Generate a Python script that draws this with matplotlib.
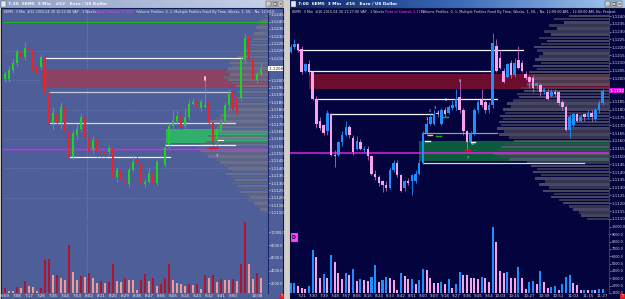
import numpy as np
import matplotlib
matplotlib.use("Agg")
import matplotlib.pyplot as plt
import matplotlib.transforms as mtransforms
from matplotlib.patches import Rectangle

W, H = 625, 299

# ---------------- left window: 6EM5 3 Min #12 ----------------
left_open = [1.1201, 1.1201, 1.1207, 1.1212, 1.1219, 1.1216, 1.1222, 1.1221, 1.1210, 1.1209,
             1.1216, 1.1191, 1.1171, 1.1178, 1.1171, 1.1182, 1.1165, 1.1148, 1.1163, 1.1167,
             1.1175, 1.1161, 1.1153, 1.1159, 1.1151, 1.1151, 1.1151, 1.1154, 1.1134, 1.1139,
             1.1131, 1.1129, 1.1139, 1.1146, 1.1143, 1.1129, 1.1131, 1.1137, 1.1130, 1.1145,
             1.1142, 1.1156, 1.1169, 1.1172, 1.1176, 1.1169, 1.1175, 1.1184, 1.1185, 1.1181,
             1.1182, 1.1185, 1.1171, 1.1160, 1.1167, 1.1172, 1.1183, 1.1192, 1.1188, 1.1188,
             1.1214, 1.1230, 1.1214, 1.1200, 1.1204]
left_high = [1.1206, 1.1210, 1.1215, 1.1221, 1.1221, 1.1226, 1.1225, 1.1222, 1.1212, 1.1218,
             1.1218, 1.1193, 1.1182, 1.1181, 1.1185, 1.1184, 1.1166, 1.1166, 1.1170, 1.1178,
             1.1178, 1.1163, 1.1162, 1.1162, 1.1153, 1.1159, 1.1156, 1.1155, 1.1141, 1.1140,
             1.1133, 1.1141, 1.1149, 1.1149, 1.1145, 1.1133, 1.1141, 1.1139, 1.1146, 1.1146,
             1.1157, 1.1171, 1.1180, 1.1180, 1.1179, 1.1181, 1.1187, 1.1188, 1.1187, 1.1187,
             1.1200, 1.1187, 1.1172, 1.1169, 1.1174, 1.1185, 1.1194, 1.1194, 1.1190, 1.1216,
             1.1232, 1.1234, 1.1216, 1.1206, 1.1212]
left_low = [1.1199, 1.1199, 1.1205, 1.1210, 1.1214, 1.1214, 1.1219, 1.1204, 1.1203, 1.1207,
            1.1186, 1.1167, 1.1166, 1.1167, 1.1167, 1.1163, 1.1145, 1.1146, 1.1160, 1.1165,
            1.1159, 1.1150, 1.1150, 1.1148, 1.1148, 1.1148, 1.1150, 1.1132, 1.1131, 1.1131,
            1.1123, 1.1127, 1.1138, 1.1141, 1.1127, 1.1127, 1.1130, 1.1126, 1.1128, 1.1143,
            1.1141, 1.1154, 1.1167, 1.1170, 1.1166, 1.1167, 1.1173, 1.1183, 1.1179, 1.1179,
            1.1181, 1.1169, 1.1156, 1.1155, 1.1165, 1.1170, 1.1181, 1.1178, 1.1176, 1.1186,
            1.1212, 1.1212, 1.1199, 1.1198, 1.1203]
left_close = [1.1204, 1.1207, 1.1212, 1.1219, 1.1216, 1.1222, 1.1221, 1.1206, 1.1205, 1.1216,
              1.1191, 1.1171, 1.1178, 1.1171, 1.1182, 1.1165, 1.1148, 1.1164, 1.1167, 1.1175,
              1.1161, 1.1152, 1.1159, 1.1151, 1.1150, 1.1150, 1.1154, 1.1134, 1.1139, 1.1133,
              1.1129, 1.1139, 1.1144, 1.1143, 1.1129, 1.1131, 1.1137, 1.1129, 1.1144, 1.1144,
              1.1154, 1.1169, 1.1172, 1.1176, 1.1168, 1.1175, 1.1184, 1.1185, 1.1181, 1.1185,
              1.1183, 1.1171, 1.1158, 1.1167, 1.1171, 1.1183, 1.1191, 1.1180, 1.1178, 1.1214,
              1.1229, 1.1214, 1.1201, 1.1204, 1.1208]
left_volume = [1220, 850, 800, 1470, 1220, 2360, 1630, 1380, 800, 1220,
               5610, 5770, 3290, 3300, 2770, 2510, 7940, 3800, 2510, 3130,
               3050, 3550, 2770, 2090, 2360, 2000, 2250, 4990, 2360, 2250,
               2770, 2510, 2480, 960, 2510, 3440, 2410, 2770, 1630, 1890,
               2770, 4990, 2510, 2000, 1980, 1630, 1840, 1740, 1890, 1120,
               3290, 2870, 3290, 2250, 2670, 2610, 2600, 2640, 2360, 4990,
               11550, 4990, 2670, 3640, 2870]
left_times = ["6:59", "7:08", "7:17", "7:26", "7:35", "7:44", "7:53", "8:02", "8:11", "8:20",
              "8:29", "8:38", "8:47", "8:56", "9:05", "9:14", "9:23", "9:32", "9:41", "9:50",
              "10:08"]
left_time_bars = list(range(0, 60, 3)) + [63]
# volume profile, one row per 0.0002 from the top level down
left_profile_top = 1.1244
left_profile = [3, 5, 8, 10, 12, 9, 14, 18, 15, 20, 17, 22, 25, 28, 30, 34, 38, 36, 40, 42,
                38, 44, 40, 36, 32, 28, 30, 26, 32, 34, 30, 36, 40, 45, 48, 52, 58, 55, 50, 46,
                52, 60, 56, 62, 66, 70, 68, 64, 60, 52, 48, 44, 40, 36, 42, 38, 34, 36, 30, 26,
                28, 22, 18, 20, 14, 10, 8, 5]
left_poc = 1.1153
left_zones = [(1.1195, 1.1208, 9, '#94405f'), (1.1157, 1.1167, 40.2, '#2fb86a')]
left_lines = [(1.1215, 9.8, 59.2, '#f2f2f6'), (1.1192, 11.0, 56.2, '#c8cad8'),
              (1.1171, 11.2, 57.5, '#d8d8e2'), (1.1148, 16.2, 41.2, '#f2f2f6'),
              (1.1156, 40.2, 57.5, '#f2f2f6')]

# ---------------- right window: 6EM5 3 Min #16 ----------------
right_open = [1.1217, 1.1220, 1.1222, 1.1219, 1.1205, 1.1209, 1.1204, 1.1187, 1.1173, 1.1170,
              1.1166, 1.1177, 1.1151, 1.1151, 1.1159, 1.1164, 1.1169, 1.1162, 1.1155, 1.1159,
              1.1154, 1.1155, 1.1150, 1.1139, 1.1137, 1.1134, 1.1132, 1.1130, 1.1141, 1.1146,
              1.1138, 1.1130, 1.1134, 1.1134, 1.1134, 1.1139, 1.1146, 1.1165, 1.1171, 1.1171,
              1.1178, 1.1171, 1.1180, 1.1178, 1.1181, 1.1182, 1.1188, 1.1180, 1.1166, 1.1159,
              1.1165, 1.1180, 1.1186, 1.1185, 1.1180, 1.1183, 1.1221, 1.1213, 1.1205, 1.1201,
              1.1210, 1.1202, 1.1212, 1.1210, 1.1203, 1.1201, 1.1200, 1.1195, 1.1196, 1.1191,
              1.1191, 1.1189, 1.1191, 1.1191, 1.1185, 1.1182, 1.1167, 1.1170, 1.1177, 1.1173,
              1.1177, 1.1175, 1.1178, 1.1174, 1.1180, 1.1184]
right_high = [1.1222, 1.1225, 1.1223, 1.1221, 1.1210, 1.1212, 1.1205, 1.1189, 1.1175, 1.1171,
              1.1180, 1.1178, 1.1154, 1.1160, 1.1166, 1.1173, 1.1170, 1.1164, 1.1163, 1.1161,
              1.1157, 1.1157, 1.1151, 1.1141, 1.1138, 1.1135, 1.1134, 1.1143, 1.1148, 1.1148,
              1.1139, 1.1135, 1.1136, 1.1139, 1.1141, 1.1148, 1.1166, 1.1175, 1.1178, 1.1180,
              1.1180, 1.1181, 1.1182, 1.1183, 1.1186, 1.1193, 1.1199, 1.1181, 1.1167, 1.1166,
              1.1181, 1.1186, 1.1193, 1.1186, 1.1185, 1.1229, 1.1225, 1.1218, 1.1207, 1.1210,
              1.1212, 1.1213, 1.1221, 1.1212, 1.1205, 1.1202, 1.1202, 1.1198, 1.1197, 1.1194,
              1.1193, 1.1193, 1.1193, 1.1192, 1.1186, 1.1183, 1.1177, 1.1178, 1.1178, 1.1177,
              1.1178, 1.1180, 1.1180, 1.1181, 1.1186, 1.1193]
right_low = [1.1216, 1.1219, 1.1217, 1.1203, 1.1204, 1.1203, 1.1186, 1.1168, 1.1167, 1.1164,
             1.1164, 1.1150, 1.1143, 1.1150, 1.1157, 1.1163, 1.1162, 1.1151, 1.1154, 1.1154,
             1.1153, 1.1148, 1.1138, 1.1135, 1.1131, 1.1127, 1.1128, 1.1129, 1.1140, 1.1137,
             1.1127, 1.1128, 1.1132, 1.1125, 1.1133, 1.1138, 1.1145, 1.1164, 1.1170, 1.1170,
             1.1175, 1.1170, 1.1175, 1.1177, 1.1180, 1.1180, 1.1178, 1.1164, 1.1154, 1.1158,
             1.1164, 1.1178, 1.1182, 1.1178, 1.1178, 1.1181, 1.1204, 1.1206, 1.1197, 1.1200,
             1.1200, 1.1201, 1.1206, 1.1204, 1.1199, 1.1194, 1.1191, 1.1193, 1.1189, 1.1190,
             1.1186, 1.1188, 1.1189, 1.1183, 1.1180, 1.1166, 1.1162, 1.1169, 1.1172, 1.1172,
             1.1173, 1.1174, 1.1173, 1.1173, 1.1178, 1.1183]
right_close = [1.1220, 1.1222, 1.1218, 1.1204, 1.1209, 1.1204, 1.1187, 1.1171, 1.1168, 1.1165,
               1.1178, 1.1151, 1.1150, 1.1159, 1.1164, 1.1169, 1.1164, 1.1153, 1.1160, 1.1155,
               1.1155, 1.1150, 1.1139, 1.1137, 1.1133, 1.1132, 1.1130, 1.1141, 1.1146, 1.1138,
               1.1128, 1.1134, 1.1133, 1.1138, 1.1139, 1.1146, 1.1165, 1.1171, 1.1175, 1.1177,
               1.1177, 1.1180, 1.1177, 1.1182, 1.1183, 1.1187, 1.1180, 1.1166, 1.1159, 1.1165,
               1.1180, 1.1185, 1.1183, 1.1180, 1.1183, 1.1223, 1.1205, 1.1207, 1.1198, 1.1209,
               1.1202, 1.1210, 1.1207, 1.1205, 1.1200, 1.1198, 1.1194, 1.1197, 1.1191, 1.1193,
               1.1187, 1.1191, 1.1190, 1.1184, 1.1182, 1.1167, 1.1175, 1.1177, 1.1173, 1.1175,
               1.1175, 1.1178, 1.1175, 1.1180, 1.1184, 1.1192]
right_volume = [2300, 2400, 1900, 1730, 1500, 1950, 6900, 5910, 3080, 3620,
                3080, 6220, 5190, 3750, 2850, 3750, 3390, 4330, 2580, 2940,
                2710, 2580, 3210, 4870, 2490, 2760, 3120, 3030, 2710, 1410,
                3750, 3300, 2940, 2960, 2170, 2710, 4290, 4150, 3080, 2400,
                2310, 2490, 2170, 2940, 1730, 2170, 3840, 3520, 3390, 3080,
                2980, 2940, 3210, 3080, 2540, 10050, 8020, 3970, 3750, 3890,
                3080, 3060, 4560, 3080, 1590, 2540, 2620, 2170, 4060, 2490,
                1630, 1810, 1950, 1360, 2170, 3210, 3390, 2400, 2040, 1360,
                1410, 1380, 1420, 1360, 1500, 1520]
right_times = ["7:21", "7:30", "7:39", "7:48", "7:57", "8:06", "8:15", "8:24", "8:33", "8:42",
               "8:51", "9:00", "9:09", "9:18", "9:27", "9:36", "9:45", "9:54", "10:03",
               "10:15", "10:27", "10:39", "10:51", "11:03", "11:15", "11:27"]
right_time_bars = list(range(3, 58, 3)) + list(range(61, 86, 4))
right_profile_top = 1.1240
right_profile = [40, 55, 45, 60, 52, 65, 58, 70, 62, 68, 75, 72, 66, 70, 74, 68, 76, 72, 80, 78,
                 83, 76, 82, 88, 85, 92, 90, 96, 102, 98, 106, 104, 109, 106, 110, 108, 112, 105,
                 110, 100, 95, 104, 108, 112, 115, 110, 100, 82, 78, 72, 76, 68, 74, 64, 70, 60,
                 66, 55, 58, 50, 46, 40, 36, 30, 28, 22]
right_poc = 1.1152
right_zones = [(1.1193, 1.1203, 5, '#6c0c2e'), (1.1147, 1.1160, 35, '#0b5c3c')]
right_lines = [(1.1218, 2.0, 63.3, '#f4f4f8'), (1.1205, 5.3, 55.1, '#f4f4f8'),
               (1.1187, 6.6, 56.2, '#f4f4f8'), (1.1177, 10.7, 38.8, '#f4f4f8'),
               (1.1165, 36.0, 56.2, '#9a9aa6'), (1.1146, 36.0, 80.0, '#d8d8e0')]


def box(x0, y0, x1, y1):
    return [x0 / W, 1 - y1 / H, (x1 - x0) / W, (y1 - y0) / H]


def candles(ax, o, h, l, c, up, dn, wick_up, wick_dn, width):
    o, h, l, c = map(np.asarray, (o, h, l, c))
    x = np.arange(len(o))
    rising = c >= o
    ax.vlines(x, l, h, colors=np.where(rising, wick_up, wick_dn), lw=0.6, zorder=4)
    body = np.maximum(np.abs(c - o), 0.000025)
    ax.bar(x, body, width, bottom=np.minimum(o, c), color=np.where(rising, up, dn),
           lw=0, zorder=5)


def volumes(ax, vol, up, dn, width):
    vol = np.asarray(vol)
    grow = np.r_[True, vol[1:] >= vol[:-1]]
    ax.bar(np.arange(len(vol)), vol, width, color=np.where(grow, up, dn), lw=0, zorder=3)


def profile(ax, top, vols, xmax, px_unit, colors, alpha):
    vols = np.asarray(vols, dtype=float)
    levels = top - 0.0002 * np.arange(len(vols))
    w = vols / px_unit
    cols = [colors[i % 2] for i in range(len(vols))]
    ax.barh(levels, w, height=0.00016, left=xmax - w, color=cols, alpha=alpha, lw=0, zorder=2)


def style_axes(ax, face, spine, label_col, fs=2.9):
    ax.set_facecolor(face)
    for s in ax.spines.values():
        s.set_visible(False)
    ax.spines['right'].set_visible(True)
    ax.spines['right'].set_color(spine)
    ax.spines['right'].set_linewidth(0.8)
    ax.yaxis.tick_right()
    ax.tick_params(axis='y', colors=label_col, labelsize=fs, length=1.2, width=0.4, pad=0.8)
    ax.tick_params(axis='x', colors=label_col, labelsize=fs, length=0, pad=0.6)


def price_ticks(ax, lo, hi, last):
    ticks = [t for t in np.round(np.arange(lo, hi + 1e-6, 0.0005), 4) if abs(t - last) > 0.00035]
    ax.set_yticks(ticks)
    ax.set_yticklabels([f"{t:.4f}" for t in ticks])


fig = plt.figure(figsize=(W / 100, H / 100), dpi=100)
fig.patch.set_facecolor('#d4d0c8')

bg = fig.add_axes([0, 0, 1, 1], zorder=-5)
bg.set_xlim(0, W)
bg.set_ylim(H, 0)
bg.axis('off')
# window chrome
bg.add_patch(Rectangle((1, 8), 282, 291, fc='#4e5e98', ec='#101a58', lw=0.8))
bg.add_patch(Rectangle((290, 8), 335, 291, fc='#03033d', ec='#101040', lw=0.8))
grad = np.linspace(0, 1, 256)[None, :]
bg.imshow(grad, extent=(0, 284, 8, 0), cmap=matplotlib.colors.LinearSegmentedColormap.from_list(
    'inact', ['#8f9fc4', '#c9d4ea']), aspect='auto')
bg.imshow(grad, extent=(290, 625, 8, 0), cmap=matplotlib.colors.LinearSegmentedColormap.from_list(
    'act', ['#0a246a', '#3a6ab8', '#a6caf0']), aspect='auto')
bg.set_xlim(0, W)
bg.set_ylim(H, 0)
for x0 in (0.5, 291):
    bg.add_patch(Rectangle((x0, 1), 5, 6, fc='#e8e8e8', ec='#404060', lw=0.3))
for x0 in (265.5, 271.5, 277.5, 604.5, 610.5, 616.5):
    bg.add_patch(Rectangle((x0, 1.2), 5.2, 5.6, fc='#d4d0c8', ec='#303030', lw=0.3))
    bg.text(x0 + 2.6, 4.2, {265.5: '_', 271.5: '□', 277.5: '×', 604.5: '_', 610.5: '□',
                            616.5: '×'}[x0], fontsize=2.8, ha='center', va='center', color='black')
bg.text(8, 4.3, "7:20  6EM5  3 Min   #12   Euro / US Dollar", fontsize=3.1, color='#f4f6fb',
        va='center', fontweight='bold')
bg.text(298, 4.3, "7:00  6EM5  3 Min   #16   Euro / US Dollar", fontsize=3.1, color='white',
        va='center', fontweight='bold')

# ---------------- left panes ----------------
lp = fig.add_axes(box(3, 9, 268, 221))
lv = fig.add_axes(box(3, 222, 268, 293))
l_xlim = (-0.5, 65.75)
l_px = (268 - 3) / (l_xlim[1] - l_xlim[0])
for ax in (lp, lv):
    style_axes(ax, '#4e5e98', '#1c2670', '#f2f2f8')
    ax.set_xlim(*l_xlim)
    ax.axvline(20.5, color='#7a88c0', lw=0.5, ls=(0, (1.5, 1.5)), zorder=0.5)
lp.set_ylim(1.11041, 1.12486)
lp.set_xticks([])
for g in (1.1120, 1.1140, 1.1160, 1.1180, 1.1200, 1.1220, 1.1240):
    lp.axhline(g, color='#6d7bb4', lw=0.5, ls=(0, (1.5, 1.5)), zorder=0.5)
for lo, hi, x0, col in left_zones:
    lp.add_patch(Rectangle((x0, lo), l_xlim[1] - x0, hi - lo, fc=col, ec='none', alpha=0.92, zorder=1))
profile(lp, left_profile_top, left_profile, l_xlim[1], l_px, ['#70748e', '#62667f'], 0.8)
lp.axhline(1.1240, color='#1fb51f', lw=0.8, zorder=3)
lp.axhline(left_poc, color='#ff10ff', lw=1.0, zorder=3)
for p, x0, x1, col in left_lines:
    lp.plot([x0, x1], [p, p], color=col, lw=0.9, zorder=3)
candles(lp, left_open, left_high, left_low, left_close,
        '#1ed41e', '#f0202a', '#1ed41e', '#f0202a', 0.72)
price_ticks(lp, 1.1110, 1.1245, left_close[-1])
lp.text(1.0, left_close[-1], f" {left_close[-1]:.4f}", transform=mtransforms.blended_transform_factory(
    lp.transAxes, lp.transData), fontsize=2.9, color='#101850', va='center', ha='left',
    bbox=dict(boxstyle='square,pad=0.12', fc='white', ec='none'), clip_on=False, zorder=6)
# trade markers
lp.text(50, 1.1201, "8", fontsize=2.6, color='#ffffff', ha='center', va='center', zorder=6,
        bbox=dict(boxstyle='square,pad=0.1', fc='#d89ab8', ec='none'))
lp.text(53, 1.11485, "7", fontsize=2.6, color='#ffffff', ha='center', va='center', zorder=6)
lp.plot([51.3, 53.0], [1.1154, 1.1154], color='#e01818', lw=1.6, zorder=6)
lp.plot([53.3, 54.4], [1.11595, 1.11595], color='white', lw=0.8, zorder=6)

lv.set_ylim(500, 11600)
volumes(lv, left_volume, '#b0132e', '#f29a92', 0.55)
lv.set_yticks([2000, 4000, 6000, 8000, 10000])
lv.set_yticklabels([f"{v:.1f}" for v in (2000, 4000, 6000, 8000, 10000)])
lv.tick_params(axis='y', labelsize=2.5)
lv.set_xticks(left_time_bars)
lv.set_xticklabels(left_times)

# ---------------- right panes ----------------
rp = fig.add_axes(box(290, 9, 609, 224))
rv = fig.add_axes(box(290, 225, 609, 293))
r_xlim = (-0.2, 86.7)
r_px = (609 - 290) / (r_xlim[1] - r_xlim[0])
for ax in (rp, rv):
    style_axes(ax, '#03033d', '#3a3a68', '#d6d6e6')
    ax.set_xlim(*r_xlim)
rp.set_ylim(1.11067, 1.12445)
rp.set_xticks([])
for lo, hi, x0, col in right_zones:
    rp.add_patch(Rectangle((x0, lo), r_xlim[1] - x0, hi - lo, fc=col, ec='none', zorder=1))
profile(rp, right_profile_top, right_profile, r_xlim[1], r_px, ['#5e5e72', '#46465a'], 0.75)
rp.axhline(right_poc, color='#e020e0', lw=1.1, zorder=3)
for p, x0, x1, col in right_lines:
    rp.plot([x0, x1], [p, p], color=col, lw=0.9, zorder=3)
candles(rp, right_open, right_high, right_low, right_close,
        '#1e8fff', '#f7a2ea', '#1e8fff', '#b868c8', 0.7)
price_ticks(rp, 1.1110, 1.1240, right_close[-1])
rp.text(1.0, right_close[-1], f" {right_close[-1]:.4f}", transform=mtransforms.blended_transform_factory(
    rp.transAxes, rp.transData), fontsize=2.9, color='white', va='center', ha='left',
    bbox=dict(boxstyle='square,pad=0.12', fc='#e010e0', ec='none'), clip_on=False, zorder=6)
for lab, i, p in [("1", 37, 1.1174), ("2", 38, 1.1179), ("3", 39.2, 1.1181), ("4", 40.2, 1.1178),
                  ("5", 42.3, 1.1186), ("6", 46, 1.11985), ("7", 48.2, 1.1149), ("8", 49.5, 1.1158)]:
    rp.text(i, p, lab, fontsize=2.5, color='#e8e8f0', ha='center', va='center', zorder=6)
for i, p, col in [(38, 1.1164, '#ffd400'), (40.2, 1.1163, '#18b018'), (42.2, 1.1175, '#18b018'),
                  (48.2, 1.1154, '#e01818'), (37.3, 1.1160, 'white'), (49.6, 1.1159, 'white')]:
    rp.plot([i - 0.6, i + 0.6], [p, p], color=col, lw=1.0, zorder=6)

rv.set_ylim(1094, 10270)
volumes(rv, right_volume, '#1e8fff', '#f7a2ea', 0.55)
rv.set_yticks(range(1000, 10001, 1000))
rv.set_yticklabels([f"{v:.1f}" for v in range(1000, 10001, 1000)])
rv.tick_params(axis='y', labelsize=2.4, pad=0.5)
rv.set_xticks(right_time_bars)
rv.set_xticklabels(right_times)

# ---------------- overlay texts ----------------
ov = fig.add_axes([0, 0, 1, 1], zorder=20)
ov.set_xlim(0, W)
ov.set_ylim(H, 0)
ov.axis('off')
ov.patch.set_alpha(0)
hs = 2.45
ov.text(4, 11.7, "6EM5  3 Min  #12 2015-04-30 10:12:00 VAP - 1 Weeks", fontsize=hs,
        color='#eef0f8', va='center')
ov.text(93, 11.7, "Point of Control: 1.1153", fontsize=hs, color='#ff40ff', va='center')
ov.text(136, 11.7, "(Volume Profiles, 0, 1, Multiple Profiles Fixed By Time, Weeks, 1, 50, , No, 12:00:0",
        fontsize=hs, color='#eef0f8', va='center')
ov.text(292, 11.7, "6EM5  3 Min  #16 2015-04-30 11:27:00 VAP - 1 Weeks", fontsize=hs,
        color='#d8d8e8', va='center')
ov.text(385, 11.7, "Point of Control: 1.1151", fontsize=hs, color='#ff40ff', va='center')
ov.text(421, 11.7, "(Volume Profiles, 0, 1, Multiple Profiles Fixed By Time, Weeks, 1, 50, , No, "
        "12:00:00 AM, , 12:00:00 AM, No, Percent,", fontsize=hs, color='#d8d8e8', va='center')
ov.add_patch(Rectangle((290.5, 233), 6.5, 8, fc='#ff40ff', ec='#ff90ff', lw=0.4))
ov.text(293.8, 237.2, "D", fontsize=3.4, color='#200040', ha='center', va='center', fontweight='bold')
for x0 in (278.5, 619.5):
    ov.add_patch(Rectangle((x0, 293.8), 5, 5.2, fc='#e51c1c', ec='none'))
    ov.text(x0 + 2.5, 296.4, "T", fontsize=2.6, color='white', ha='center', va='center')

fig.savefig("out.png", dpi=100, facecolor=fig.get_facecolor())
